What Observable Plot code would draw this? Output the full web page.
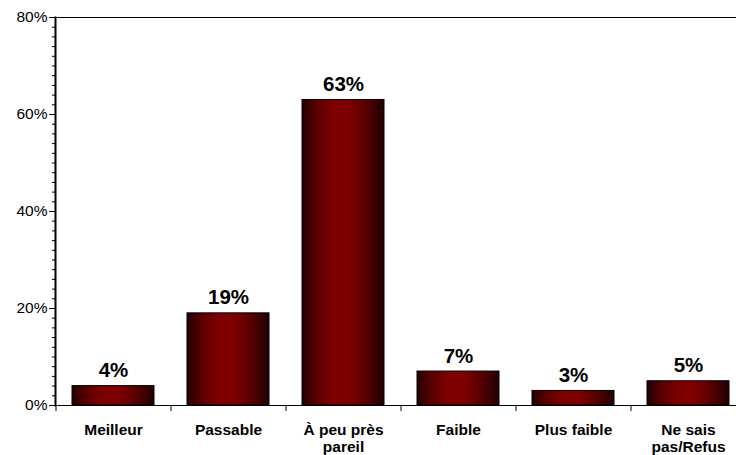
<!DOCTYPE html>
<html><head><meta charset="utf-8">
<script src="https://cdn.jsdelivr.net/npm/d3@7"></script>
<script src="https://cdn.jsdelivr.net/npm/@observablehq/plot@0.6"></script>
<style>body{margin:0;overflow:hidden;background:#fff} svg{display:block}</style>
</head><body><div id="chart"></div>
<script>
const categories = ["Meilleur", "Passable", "À peu près\npareil", "Faible", "Plus faible", "Ne sais\npas/Refus"];
const values = [4, 19, 63, 7, 3, 5];
const majorTicks = [0, 20, 40, 60, 80];
const minorTicks = [0,2,4,6,8,10,12,14,16,18,20,22,24,26,28,30,32,34,36,38,40,42,44,46,48,50,52,54,56,58,60,62,64,66,68,70,72,74,76,78,80];

const data = categories.map((c, i) => ({category: c, value: values[i]}));
const font = "Liberation Sans, Arial, Helvetica, sans-serif";

const plot = Plot.plot({
  width: 736, height: 455,
  marginLeft: 55, marginRight: -9, marginTop: 17, marginBottom: 50,
  style: {fontFamily: font, background: "#fff", overflow: "visible", color: "#000"},
  x: {domain: categories, paddingInner: 0.287, paddingOuter: 0.1435, axis: null, label: null},
  y: {domain: [0, 80], axis: null, label: null},
  marks: [
    Plot.barY(data, {x: "category", y: "value", fill: "url(#barGrad)", stroke: "#000", strokeWidth: 1}),
    Plot.text(data, {x: "category", y: "value", text: d => d.value + "%", dy: -9, lineAnchor: "bottom",
      fontSize: 20.5, fontWeight: "bold", fill: "#000"}),
    Plot.axisY(minorTicks, {tickSize: 3, tickFormat: () => "", stroke: "#000", label: null}),
    Plot.axisY(majorTicks, {tickSize: 6, tickPadding: 2, tickFormat: d => d + "%", fontSize: 15.5, fill: "#000", stroke: "#000", label: null}),
    Plot.axisX({tickSize: 6, tickFormat: () => "", dx: -57.5, stroke: "#000", label: null}),
    Plot.axisX({tickSize: 0, tickPadding: 17, fontSize: 15.5, fontWeight: "bold", lineHeight: 1.1, fill: "#000", label: null}),
    Plot.ruleY([0], {stroke: "#000"}),
    Plot.ruleY([80], {stroke: "#000"}),
    Plot.frame({anchor: "left", stroke: "#000", strokeWidth: 2})
  ]
});

const defs = d3.select(plot).insert("defs", ":first-child");
const g = defs.append("linearGradient").attr("id", "barGrad").attr("x1", "0").attr("x2", "1").attr("y1", "0").attr("y2", "0");
[[0, "#220003"], [0.18, "#5a0000"], [0.38, "#7e0000"], [0.55, "#800000"], [0.72, "#650000"], [1, "#220003"]]
  .forEach(([o, c]) => g.append("stop").attr("offset", o).attr("stop-color", c));

document.getElementById("chart").appendChild(plot);
</script>
</body></html>
